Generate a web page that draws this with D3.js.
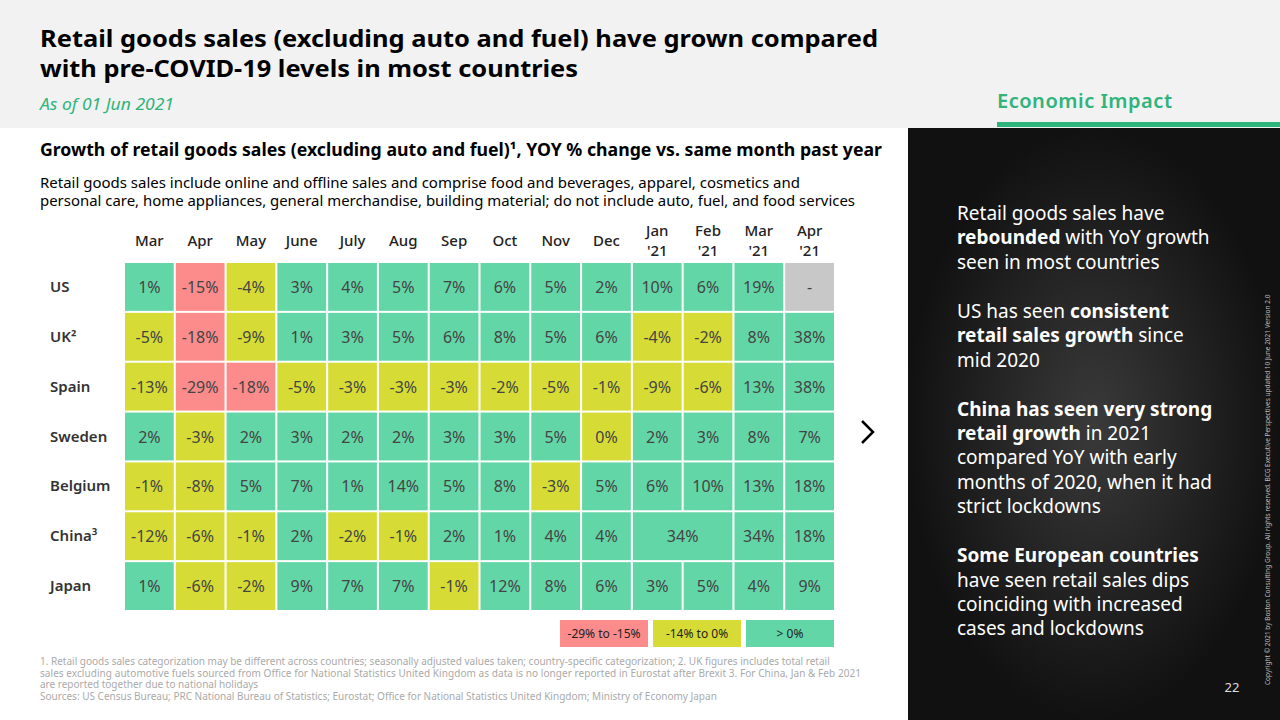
<!DOCTYPE html>
<html><head><meta charset="utf-8">
<script src="https://cdn.jsdelivr.net/npm/d3@7"></script>
<style>body{margin:0;font-family:"Noto Sans",sans-serif}svg{display:block}</style>
</head><body><svg id="c" width="1280" height="720"></svg>
<script>
const months=["Mar","Apr","May","June","July","Aug","Sep","Oct","Nov","Dec","Jan|'21","Feb|'21","Mar|'21","Apr|'21"];
const countries=["US","UK²","Spain","Sweden","Belgium","China³","Japan"];
const US=[1,-15,-4,3,4,5,7,6,5,2,10,6,19,null];
const UK=[-5,-18,-9,1,3,5,6,8,5,6,-4,-2,8,38];
const Spain=[-13,-29,-18,-5,-3,-3,-3,-2,-5,-1,-9,-6,13,38];
const Sweden=[2,-3,2,3,2,2,3,3,5,0,2,3,8,7];
const Belgium=[-1,-8,5,7,1,14,5,8,-3,5,6,10,13,18];
const China=[-12,-6,-1,2,-2,-1,2,1,4,4,34,34,34,18];
const Japan=[1,-6,-2,9,7,7,-1,12,8,6,3,5,4,9];
const rows=[US,UK,Spain,Sweden,Belgium,China,Japan];
const legend=["-29% to -15%","-14% to 0%","> 0%"];
const cols=["#fc8b8b","#d6dc35","#63d6a8"];
const svg=d3.select("#c");
svg.append("rect").attr("width",1280).attr("height",128).attr("fill","#f2f2f2");
const g0=svg.append("defs").append("radialGradient").attr("id","rg");
g0.append("stop").attr("offset","0").attr("stop-color","#3a3a3a");
g0.append("stop").attr("offset","1").attr("stop-color","#111");
svg.append("rect").attr("x",908).attr("y",128).attr("width",372).attr("height",592).attr("fill","url(#rg)");
svg.append("rect").attr("x",997).attr("y",122).attr("width",283).attr("height",5).attr("fill","#2fb47c");
svg.append("text").attr("x",997).attr("y",108).attr("fill","#2fb47c").attr("font-size",20).attr("font-weight",600).attr("textLength",175).text("Economic Impact");
const T=(x,y,s,t,o={})=>{const e=svg.append("text").attr("x",x).attr("y",y).attr("font-size",s).attr("fill",o.c||"#000").attr("font-weight",o.w||400).attr("text-anchor",o.a||"start").text(t);if(o.i)e.attr("font-style","italic");if(o.L)e.attr("textLength",o.L).attr("lengthAdjust","spacingAndGlyphs");return e;};
T(40,47,24,"Retail goods sales (excluding auto and fuel) have grown compared",{w:700,L:838});
T(40,77,24,"with pre-COVID-19 levels in most countries",{w:700,L:538});
T(40,110,16,"As of 01 Jun 2021",{c:"#2fb47c",i:1,L:134});
T(40,156,17,"Growth of retail goods sales (excluding auto and fuel)¹, YOY % change vs. same month past year",{w:700,L:842});
T(40,188,14,"Retail goods sales include online and offline sales and comprise food and beverages, apparel, cosmetics and",{L:760});
T(40,206,14,"personal care, home appliances, general merchandise, building material; do not include auto, fuel, and food services",{L:815});
const x=d3.scaleBand().domain(d3.range(14)).range([125,834]).paddingInner(0.04);
const y=d3.scaleBand().domain(d3.range(7)).range([263,610]).paddingInner(0.04);
const colorOf=v=>v==null?"#c8c8c8":v>0?cols[2]:v>=-14?cols[1]:cols[0];
months.forEach((m,i)=>{const p=m.split("|");const cx=x(i)+x.bandwidth()/2;
 if(p.length==1)T(cx,246,15,p[0],{a:"middle",w:500,c:"#222"});
 else{T(cx,236,15,p[0],{a:"middle",w:500,c:"#222"});T(cx,256,15,p[1],{a:"middle",w:500,c:"#222"});}});
countries.forEach((c,j)=>T(50,y(j)+y.bandwidth()/2+5,15,c,{w:600,c:"#333"}));
rows.forEach((r,j)=>{r.forEach((v,i)=>{
 if(j==5&&i==11)return;
 let w=x.bandwidth();if(j==5&&i==10)w=x(11)+x.bandwidth()-x(10);
 svg.append("rect").attr("x",x(i)).attr("y",y(j)).attr("width",w).attr("height",y.bandwidth()).attr("fill",colorOf(v));
 T(x(i)+w/2,y(j)+y.bandwidth()/2+6,16,v==null?"-":v+"%",{a:"middle",c:"#444"});
});});
const lx=[560,653,746],lw=[88,88,88];
legend.forEach((l,i)=>{svg.append("rect").attr("x",lx[i]).attr("y",620).attr("width",lw[i]).attr("height",27).attr("fill",cols[i]);
 T(lx[i]+lw[i]/2,638,12,l,{a:"middle",c:"#222"});});
svg.append("path").attr("d","M862,421L873,432L862,443").attr("fill","none").attr("stroke","#000").attr("stroke-width",2.5);
const fn=["1. Retail goods sales categorization may be different across countries; seasonally adjusted values taken; country-specific categorization; 2. UK figures includes total retail","sales excluding automotive fuels sourced from Office for National Statistics United Kingdom as data is no longer reported in Eurostat after Brexit 3. For China, Jan & Feb 2021","are reported together due to national holidays","Sources: US Census Bureau; PRC National Bureau of Statistics; Eurostat; Office for National Statistics United Kingdom; Ministry of Economy Japan"];
fn.forEach((t,i)=>T(40,665+i*11.7,10,t,{c:"#aaa"}).attr("textLength",i==1?821:null));
const side=[[["Retail goods sales have",0]],[["rebounded",1],[" with YoY growth",0]],[["seen in most countries",0]],null,[["US has seen ",0],["consistent",1]],[["retail sales growth",1],[" since",0]],[["mid 2020",0]],null,[["China has seen very strong",1]],[["retail growth",1],[" in 2021",0]],[["compared YoY with early",0]],[["months of 2020, when it had",0]],[["strict lockdowns",0]],null,[["Some European countries",1]],[["have seen retail sales dips",0]],[["coinciding with increased",0]],[["cases and lockdowns",0]]];
let yy=220;side.forEach(l=>{if(!l){yy+=25;return;}const t=svg.append("text").attr("x",957).attr("y",yy).attr("font-size",19).attr("fill","#fff");
 l.forEach(s=>t.append("tspan").attr("font-weight",s[1]?700:400).text(s[0]));yy+=24.3;});
T(1232,692,13,"22",{c:"#ddd",a:"middle"});
svg.append("text").attr("transform","translate(1270,685)rotate(-90)").attr("font-size",6.5).attr("fill","#bbb").text("Copyright © 2021 by Boston Consulting Group. All rights reserved. BCG Executive Perspectives updated 10 June 2021 Version 2.0");
</script></body></html>
